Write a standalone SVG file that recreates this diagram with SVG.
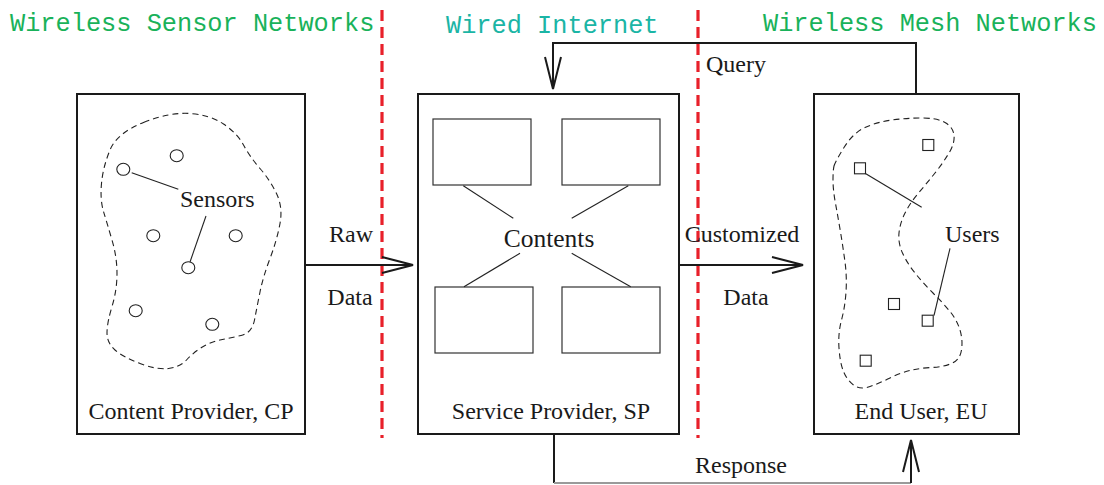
<svg xmlns="http://www.w3.org/2000/svg" width="1104" height="485" viewBox="0 0 1104 485">
<style>
.box{fill:#fff;stroke:#1a1a1a;stroke-width:2}
.inner{fill:#fff;stroke:#333;stroke-width:1.2}
.thin{fill:none;stroke:#222;stroke-width:1.1}
.blob{fill:none;stroke:#222;stroke-width:1.1;stroke-dasharray:6 4}
.conn{fill:none;stroke:#1a1a1a;stroke-width:2}
.head{fill:none;stroke:#1a1a1a;stroke-width:2;stroke-linejoin:miter}
.red{stroke:#e8202a;stroke-width:3.2;stroke-dasharray:11 6;fill:none}
.mono{font-family:"Liberation Mono","Courier New",monospace;font-size:25.3px}
.serif{font-family:"Liberation Serif","Times New Roman",serif;font-size:24px;fill:#1a1a1a}
.sensor{fill:#fff;stroke:#222;stroke-width:1.1}
</style>

<g id="region-labels">
<text class="mono" x="10" y="31" fill="#19b25a">Wireless Sensor Networks</text>
<text class="mono" x="446" y="33" fill="#1bb5a5">Wired Internet</text>
<text class="mono" x="763" y="31" fill="#19b25a">Wireless Mesh Networks</text>
</g>

<g id="content-provider">
<rect class="box" x="77" y="94" width="228" height="340"/>
<path class="blob" d="M143.5,122.5 Q170,112 190,113.5 Q210,115 223.5,124 Q237,133 243.5,145 Q250,157 260,168.5 Q270,180 276.5,193.5 Q283,207 280,223.5 Q277,240 270,258.5 Q263,277 260,292 Q257,307 254.5,320 Q252,333 241,335.5 Q230,338 220,340 Q210,342 201.5,347.5 Q193,353 186.5,360 Q180,367 168.5,368.5 Q157,370 140,363.5 Q123,357 115,350 Q107,343 107,333 Q107,323 112,306.5 Q117,290 117,273.5 Q117,257 112,240 Q107,223 103.5,211.5 Q100,200 101.5,183.5 Q103,167 110,150 Q117,133 143.5,122.5 Z"/>
<ellipse class="sensor" cx="123.3" cy="169.3" rx="6.5" ry="6"/>
<ellipse class="sensor" cx="176.7" cy="155.7" rx="6.5" ry="6"/>
<ellipse class="sensor" cx="153.3" cy="235.7" rx="6.5" ry="6"/>
<ellipse class="sensor" cx="235.7" cy="235.7" rx="6.5" ry="6"/>
<ellipse class="sensor" cx="188.3" cy="267.7" rx="6.5" ry="6"/>
<ellipse class="sensor" cx="135.7" cy="310.7" rx="6.5" ry="6"/>
<ellipse class="sensor" cx="212.3" cy="324.3" rx="6.5" ry="6"/>
<line class="thin" x1="131.7" y1="172.7" x2="178.3" y2="189.3"/>
<line class="thin" x1="206" y1="216" x2="190" y2="262"/>
<text class="serif" x="180" y="207">Sensors</text>
<text class="serif" x="191" y="419" text-anchor="middle">Content Provider, CP</text>
</g>

<g id="service-provider">
<rect class="box" x="418" y="94" width="261" height="340"/>
<rect class="inner" x="433" y="119" width="98" height="66"/>
<rect class="inner" x="562" y="119" width="98" height="66"/>
<rect class="inner" x="435" y="287" width="98" height="66"/>
<rect class="inner" x="562" y="287" width="98" height="66"/>
<line class="thin" x1="463.3" y1="185.7" x2="513.3" y2="218.3"/>
<line class="thin" x1="628.3" y1="185.7" x2="571.7" y2="218.3"/>
<line class="thin" x1="520" y1="253.3" x2="464" y2="286.7"/>
<line class="thin" x1="571.7" y1="253.3" x2="630.7" y2="286.7"/>
<text class="serif" x="549" y="247" text-anchor="middle" style="font-size:25.5px">Contents</text>
<text class="serif" x="551" y="419" text-anchor="middle">Service Provider, SP</text>
</g>

<g id="end-user">
<rect class="box" x="814" y="94" width="205" height="340"/>
<path class="blob" d="M834,166 Q835,162 844,147.5 Q853,133 865,127.5 Q877,122 892,120 Q907,118 922,118 Q937,118 945,122.5 Q953,127 954,135 Q955,143 949,153 Q943,163 935,173 Q927,183 918.5,193 Q910,203 905,213 Q900,223 899,233 Q898,243 902.5,253 Q907,263 915,273 Q923,283 933,293 Q943,303 950,311.5 Q957,320 960,330 Q963,340 961.5,350 Q960,360 951.5,363.5 Q943,367 931.5,367.5 Q920,368 910,370.5 Q900,373 890,378 Q880,383 870,386.5 Q860,390 853.5,385 Q847,380 843.5,371.5 Q840,363 839,348 Q838,333 841.5,320 Q845,307 846,292 Q847,277 845,262 Q843,247 840.5,232 Q838,217 835.5,203.5 Q833,190 833,180 Q833,170 834,166 Z"/>
<rect class="sensor" x="922.8" y="139.5" width="11" height="11"/>
<rect class="sensor" x="854.5" y="162.8" width="11" height="11"/>
<rect class="sensor" x="888.5" y="298.5" width="11" height="11"/>
<rect class="sensor" x="922.2" y="315.2" width="11" height="11"/>
<rect class="sensor" x="860.2" y="355.2" width="11" height="11"/>
<line class="thin" x1="865" y1="173.3" x2="921.7" y2="207.3"/>
<line class="thin" x1="950" y1="248.3" x2="934" y2="315.5"/>
<text class="serif" x="945" y="242">Users</text>
<text class="serif" x="921" y="419" text-anchor="middle">End User, EU</text>
</g>

<g id="boundaries">
<line class="red" x1="382" y1="10" x2="382" y2="438"/>
<line class="red" x1="698" y1="10" x2="698" y2="438"/>
</g>

<g id="connectors">
<line class="conn" x1="305" y1="265" x2="412" y2="265"/>
<polyline class="head" points="382,257 413,265 382,273"/>
<line class="conn" x1="679" y1="265" x2="802" y2="265"/>
<polyline class="head" points="772,257 803,265 772,273"/>
<polyline class="conn" points="916,94 916,43 553,43 553,88"/>
<polyline class="head" points="545,57 553,89 561,57"/>
<polyline class="conn" points="554,434 554,483"/>
<line x1="554" y1="483" x2="911" y2="483" stroke="#9a9a9a" stroke-width="2"/>
<line class="conn" x1="911" y1="483" x2="911" y2="441"/>
<polyline class="head" points="903,472 911,440 919,472"/>
<text class="serif" x="351" y="242" text-anchor="middle">Raw</text>
<text class="serif" x="350" y="305" text-anchor="middle">Data</text>
<text class="serif" x="742" y="242" text-anchor="middle">Customized</text>
<text class="serif" x="746" y="305" text-anchor="middle">Data</text>
<text class="serif" x="706" y="72">Query</text>
<text class="serif" x="741" y="473" text-anchor="middle">Response</text>
</g>
</svg>
